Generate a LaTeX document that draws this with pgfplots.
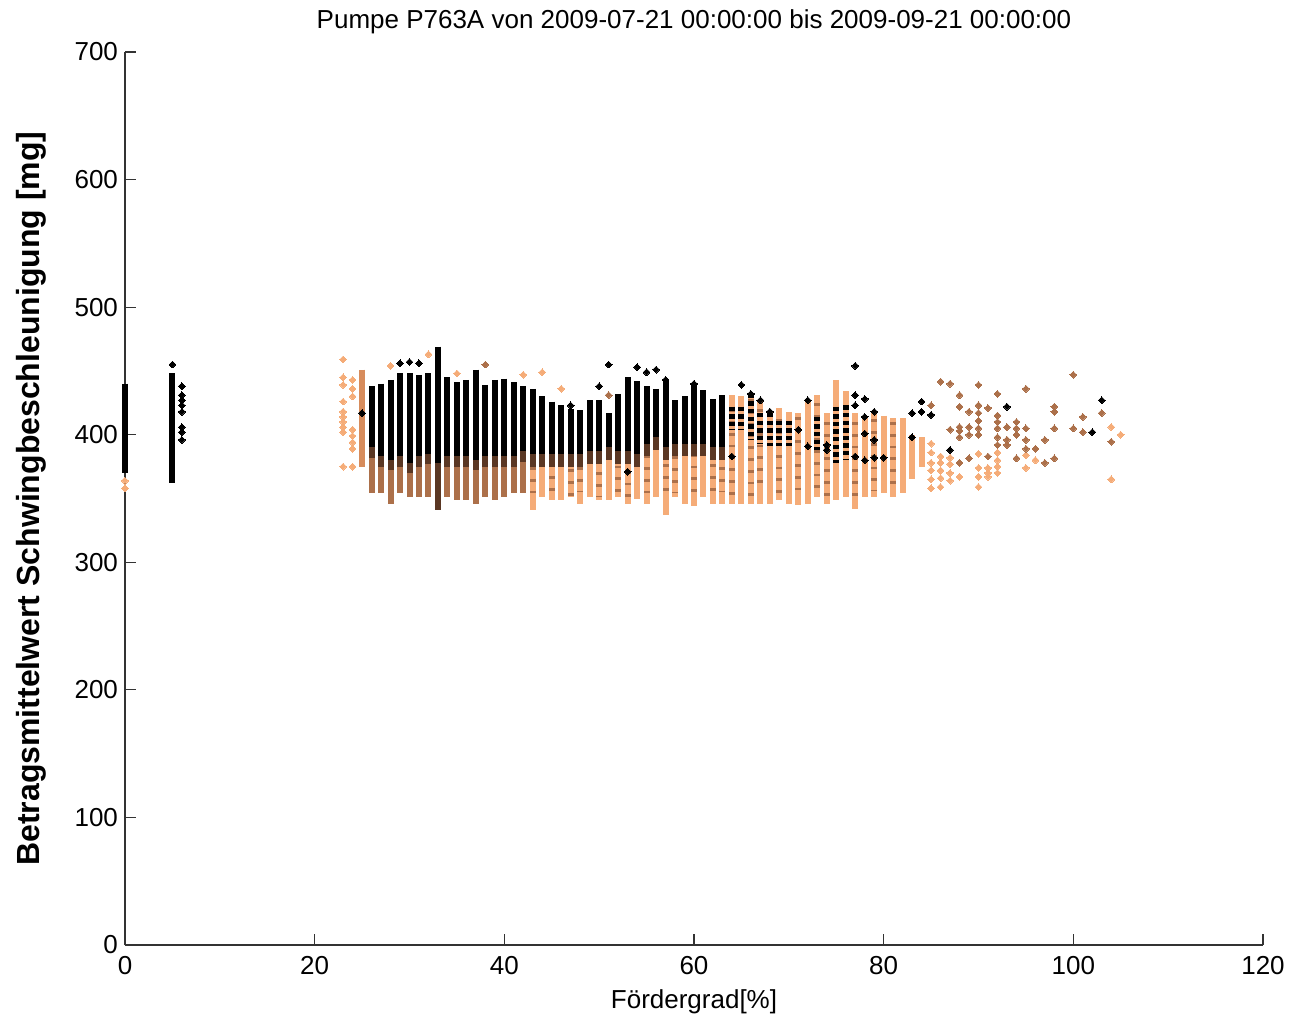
\documentclass[border=0pt]{standalone}
\usepackage{pgfplots}
\usepackage{pgfplotstable}
\usepackage{fontspec}
\setmainfont{Liberation Sans}
\pgfplotsset{compat=1.18}
\definecolor{cK}{RGB}{0,0,0}
\definecolor{cD}{RGB}{90,55,35}
\definecolor{cB}{RGB}{172,112,74}
\definecolor{cT}{RGB}{215,140,92}
\definecolor{cL}{RGB}{245,172,120}
\pgfplotsset{
  band/.style={draw=none, mark=none, forget plot,
    error bars/.cd, y dir=minus, y explicit, error mark=none,
    error bar style={line width=3pt, draw=#1}},
  sband/.style={draw=none, mark=none, forget plot,
    error bars/.cd, y dir=minus, y explicit, error mark=none,
    error bar style={line width=3pt, draw=#1, dash pattern=on 2.2pt off 1.6pt}},
  speck/.style={draw=none, mark=none, forget plot,
    error bars/.cd, y dir=minus, y explicit, error mark=none,
    error bar style={line width=3pt, draw=#1, dash pattern=on 1.4pt off 4.5pt}},
  pts/.style={only marks, mark=square*, mark size=1.2pt, forget plot, color=#1,
    mark options={rotate=45, draw=#1, fill=#1, line width=0pt}}
}
% solid black bands: x, lo, hi
\pgfplotstableread{
x lo hi
0 370 440
5 362 448
26 390 438
27 383 440
28 380 443
29 383 448
30 378 448
31 383 447
32 385 448
33 378 469
34 383 445
35 383 441
36 383 443
37 380 451
38 383 439
39 383 443
40 383 444
41 383 441
42 387 438
43 385 436
44 385 430
45 385 426
46 385 423
47 385 420
48 385 419
49 387 427
50 387 427
51 390 417
52 387 432
53 387 445
54 385 442
55 393 438
56 398 436
57 390 443
58 393 427
59 393 430
60 393 440
61 393 435
62 390 428
63 390 431
}\blackbands
% sparse black bands
\pgfplotstableread{
x lo hi
64 404 422
65 404 422
66 396 432
67 393 417
68 391 417
69 391 411
70 391 411
73 388 414
75 378 422
76 380 423
}\sparseblack
% dark brown transition bands
\pgfplotstableread{
x lo hi
26 382 394
27 375 387
28 372 384
29 375 387
30 370 382
31 375 387
32 377 389
33 341 380
34 375 387
35 375 387
36 375 387
37 372 384
38 375 387
39 375 387
40 375 387
41 375 387
42 379 391
43 375 389
44 375 389
45 375 389
46 375 389
47 375 389
48 375 389
49 377 391
50 377 391
51 380 394
52 377 391
53 377 391
54 375 389
55 383 397
56 388 402
57 380 394
58 383 397
59 383 397
60 383 397
61 383 397
62 380 394
63 380 394
}\darkbands
% brown bands
\pgfplotstableread{
x lo hi
26 354 390
27 354 383
28 346 380
29 354 383
30 351 378
31 351 383
32 351 385
34 351 383
35 349 383
36 349 383
37 346 380
38 351 383
39 349 383
40 351 383
41 354 383
42 354 387
}\brownbands
% tan band
\pgfplotstableread{
x lo hi
25 375 451
}\tanbands
% light bands
\pgfplotstableread{
x lo hi
43 341 385
44 351 385
45 349 385
46 349 385
47 351 385
48 346 385
49 351 387
50 349 387
51 349 390
52 351 387
53 346 387
54 350 385
55 346 393
56 351 398
57 337 390
58 351 393
59 346 393
60 344 393
61 351 393
62 346 390
63 346 390
64 346 431
65 346 430
66 346 432
67 346 427
68 346 418
69 349 421
70 346 418
71 345 417
72 346 427
73 351 431
74 346 417
75 349 443
76 351 434
77 342 417
78 351 414
79 351 418
80 354 415
81 351 413
82 354 413
83 365 400
84 375 398
}\lightbands
% brown specks in the light region
\pgfplotstableread{
x lo hi
43 352 384
45 355 386
47 350 382
48 356 384
50 352 380
52 354 385
53 350 381
55 353 384
57 351 386
58 355 383
60 350 385
62 352 386
63 355 384
64 350 420
66 352 428
67 356 420
69 352 412
71 350 414
73 354 425
74 350 410
77 352 410
79 356 412
81 355 410
}\specks
\pgfplotstableread{
x y
5 455
6 438
6 431
6 427
6 423
6 418
6 406
6 402
6 396
25 417
29 456
30 457
31 456
47 423
50 438
51 455
53 371
54 453
55 449
56 451
57 443
60 440
64 383
65 439
66 432
67 427
68 418
71 404
72 427
72 391
74 392
74 388
77 454
77 431
77 423
77 383
78 428
78 414
78 401
78 380
79 418
79 396
79 382
80 382
83 417
83 398
84 426
84 418
85 415.5
87 388
93 422
102 402
103 427
}\blackpts
\pgfplotstableread{
x y
38 455
51 431
85 423
86 441.6
87 440
87 404
88 431
88 422
88 406
88 403
88 398
88 378
89 418
89 406
89 400
89 381.5
90 439
90 423
90 417
90 411
90 405
90 400
91 421
91 383
92 432
92 415
92 410
92 405
92 398
92 392
93 406
93 396
93 392
94 410
94 405
94 400
94 381.5
95 436
95 405
95 396
95 389
96 389
97 396
97 378
98 422
98 418
98 405
98 381.5
100 447
100 405
101 414
101 402
103 417
104 394.5
}\brownpts
\pgfplotstableread{
x y
0 364
0 358
23 459
23 445
23 439
23 426
23 418
23 414
23 410
23 406
23 402
23 375
24 443
24 436
24 430
24 404
24 399
24 394
24 389
24 375
28 454
32 463
35 448
42 447
44 449
46 436
85 393
85 386
85 378
85 372
85 365
85 358
86 383
86 378
86 372
86 366
86 359
87 382
87 377
87 370
87 364
88 367
90 385
90 374
90 367
90 359
91 374
91 370
91 367
92 386
92 380
92 375
92 370
95 384
95 374
96 380
104 406
104 365
105 400
}\lightpts
\begin{document}
\begin{tikzpicture}
\useasboundingbox (-62.5pt,-36.5pt) rectangle (582.5pt,472.5pt);
\begin{axis}[
  at={(0,0)}, anchor=south west,
  scale only axis, width=569pt, height=446.5pt,
  xmin=0, xmax=120, ymin=0, ymax=700,
  xtick={0,20,...,120}, ytick={0,100,...,700},
  axis x line*=bottom, axis y line*=left,
  axis line style={-, line width=0.6pt, black!80},
  tick align=inside, major tick length=5.5pt,
  tick style={line width=0.6pt, black!80},
  clip=false,
  /pgf/number format/assume math mode=true,
  ticklabel style={font=\fontsize{13}{15}\selectfont},
  xticklabel style={yshift=-2pt},
  every axis title shift=0pt,
  title={Pumpe P763A von 2009-07-21 00:00:00 bis 2009-09-21 00:00:00},
  title style={font=\fontsize{13}{15}\selectfont, at={(axis description cs:0.5,1.0258)}, anchor=base, inner sep=0pt, yshift=0pt},
  xlabel={Fördergrad[\%]},
  xlabel style={font=\fontsize{13}{15}\selectfont, at={(axis description cs:0.5,-0.0706)}, anchor=base, inner sep=0pt},
  ylabel={Betragsmittelwert Schwingbeschleunigung [mg]},
  ylabel style={font=\fontsize{16}{19}\bfseries, at={(axis description cs:-0.0747,0.5)}, anchor=base, rotate=0, inner sep=0pt},
]
\addplot[band=cL] table[x=x, y=hi, y error expr=\thisrow{hi}-\thisrow{lo}] {\lightbands};
\addplot[speck=cB] table[x=x, y=hi, y error expr=\thisrow{hi}-\thisrow{lo}] {\specks};
\addplot[band=cT] table[x=x, y=hi, y error expr=\thisrow{hi}-\thisrow{lo}] {\tanbands};
\addplot[band=cB] table[x=x, y=hi, y error expr=\thisrow{hi}-\thisrow{lo}] {\brownbands};
\addplot[band=cD] table[x=x, y=hi, y error expr=\thisrow{hi}-\thisrow{lo}] {\darkbands};
\addplot[band=cK] table[x=x, y=hi, y error expr=\thisrow{hi}-\thisrow{lo}] {\blackbands};
\addplot[sband=cK] table[x=x, y=hi, y error expr=\thisrow{hi}-\thisrow{lo}] {\sparseblack};
\addplot[pts=cL] table[x=x, y=y] {\lightpts};
\addplot[pts=cB] table[x=x, y=y] {\brownpts};
\addplot[pts=cK] table[x=x, y=y] {\blackpts};
\end{axis}
\end{tikzpicture}
\end{document}
